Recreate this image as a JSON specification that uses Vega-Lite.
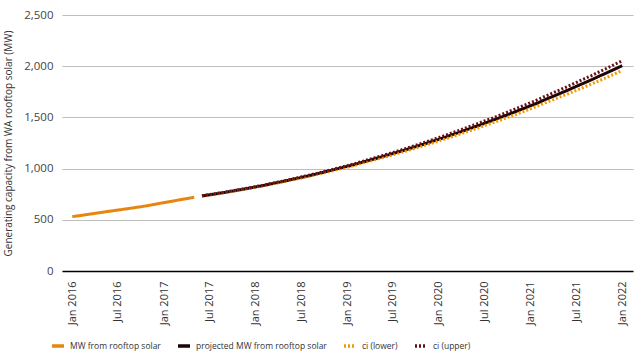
{
  "$schema": "https://vega.github.io/schema/vega-lite/v6.json",
  "width": 571,
  "height": 256,
  "autosize": "none",
  "padding": {"left": 62, "top": 15, "right": 4, "bottom": 82},
  "background": "white",
  "config": {"font": "Open Sans", "view": {"stroke": null}},
  "data": {"values": [
    {"date": "2016/01/01", "hist": 531},
    {"date": "2016/02/01", "hist": 541},
    {"date": "2016/03/01", "hist": 552},
    {"date": "2016/04/01", "hist": 563},
    {"date": "2016/05/01", "hist": 574},
    {"date": "2016/06/01", "hist": 585},
    {"date": "2016/07/01", "hist": 595},
    {"date": "2016/08/01", "hist": 606},
    {"date": "2016/09/01", "hist": 617},
    {"date": "2016/10/01", "hist": 628},
    {"date": "2016/11/01", "hist": 640},
    {"date": "2016/12/01", "hist": 654},
    {"date": "2017/01/01", "hist": 668},
    {"date": "2017/02/01", "hist": 681},
    {"date": "2017/03/01", "hist": 694},
    {"date": "2017/04/01", "hist": 707},
    {"date": "2017/05/01", "hist": 720},
    {"date": "2017/06/01", "proj": 733, "lo": 731, "up": 735},
    {"date": "2017/07/01", "proj": 744, "lo": 742, "up": 746},
    {"date": "2017/08/01", "proj": 756, "lo": 754, "up": 758},
    {"date": "2017/09/01", "proj": 768, "lo": 766, "up": 770},
    {"date": "2017/10/01", "proj": 781, "lo": 778, "up": 783},
    {"date": "2017/11/01", "proj": 794, "lo": 791, "up": 796},
    {"date": "2017/12/01", "proj": 807, "lo": 804, "up": 809},
    {"date": "2018/01/01", "proj": 821, "lo": 818, "up": 824},
    {"date": "2018/02/01", "proj": 835, "lo": 832, "up": 838},
    {"date": "2018/03/01", "proj": 850, "lo": 847, "up": 853},
    {"date": "2018/04/01", "proj": 865, "lo": 862, "up": 869},
    {"date": "2018/05/01", "proj": 881, "lo": 877, "up": 884},
    {"date": "2018/06/01", "proj": 897, "lo": 893, "up": 901},
    {"date": "2018/07/01", "proj": 913, "lo": 909, "up": 918},
    {"date": "2018/08/01", "proj": 930, "lo": 925, "up": 935},
    {"date": "2018/09/01", "proj": 948, "lo": 942, "up": 953},
    {"date": "2018/10/01", "proj": 966, "lo": 960, "up": 971},
    {"date": "2018/11/01", "proj": 984, "lo": 977, "up": 990},
    {"date": "2018/12/01", "proj": 1003, "lo": 996, "up": 1009},
    {"date": "2019/01/01", "proj": 1022, "lo": 1014, "up": 1029},
    {"date": "2019/02/01", "proj": 1041, "lo": 1033, "up": 1049},
    {"date": "2019/03/01", "proj": 1061, "lo": 1053, "up": 1070},
    {"date": "2019/04/01", "proj": 1082, "lo": 1072, "up": 1091},
    {"date": "2019/05/01", "proj": 1103, "lo": 1093, "up": 1113},
    {"date": "2019/06/01", "proj": 1124, "lo": 1113, "up": 1135},
    {"date": "2019/07/01", "proj": 1146, "lo": 1134, "up": 1157},
    {"date": "2019/08/01", "proj": 1168, "lo": 1156, "up": 1180},
    {"date": "2019/09/01", "proj": 1191, "lo": 1178, "up": 1204},
    {"date": "2019/10/01", "proj": 1214, "lo": 1200, "up": 1228},
    {"date": "2019/11/01", "proj": 1238, "lo": 1223, "up": 1252},
    {"date": "2019/12/01", "proj": 1262, "lo": 1246, "up": 1277},
    {"date": "2020/01/01", "proj": 1286, "lo": 1269, "up": 1303},
    {"date": "2020/02/01", "proj": 1311, "lo": 1293, "up": 1329},
    {"date": "2020/03/01", "proj": 1336, "lo": 1318, "up": 1355},
    {"date": "2020/04/01", "proj": 1362, "lo": 1342, "up": 1382},
    {"date": "2020/05/01", "proj": 1388, "lo": 1368, "up": 1409},
    {"date": "2020/06/01", "proj": 1415, "lo": 1393, "up": 1437},
    {"date": "2020/07/01", "proj": 1442, "lo": 1419, "up": 1465},
    {"date": "2020/08/01", "proj": 1470, "lo": 1446, "up": 1493},
    {"date": "2020/09/01", "proj": 1498, "lo": 1472, "up": 1523},
    {"date": "2020/10/01", "proj": 1526, "lo": 1500, "up": 1552},
    {"date": "2020/11/01", "proj": 1555, "lo": 1527, "up": 1582},
    {"date": "2020/12/01", "proj": 1584, "lo": 1555, "up": 1613},
    {"date": "2021/01/01", "proj": 1614, "lo": 1584, "up": 1644},
    {"date": "2021/02/01", "proj": 1644, "lo": 1613, "up": 1676},
    {"date": "2021/03/01", "proj": 1675, "lo": 1642, "up": 1708},
    {"date": "2021/04/01", "proj": 1706, "lo": 1672, "up": 1740},
    {"date": "2021/05/01", "proj": 1737, "lo": 1702, "up": 1773},
    {"date": "2021/06/01", "proj": 1769, "lo": 1732, "up": 1806},
    {"date": "2021/07/01", "proj": 1802, "lo": 1763, "up": 1840},
    {"date": "2021/08/01", "proj": 1835, "lo": 1795, "up": 1875},
    {"date": "2021/09/01", "proj": 1868, "lo": 1826, "up": 1909},
    {"date": "2021/10/01", "proj": 1902, "lo": 1858, "up": 1945},
    {"date": "2021/11/01", "proj": 1936, "lo": 1891, "up": 1980},
    {"date": "2021/12/01", "proj": 1970, "lo": 1924, "up": 2017},
    {"date": "2022/01/01", "proj": 2005, "lo": 1957, "up": 2053}
  ]},
  "transform": [
    {"fold": ["hist", "proj", "lo", "up"], "as": ["series", "value"]},
    {"filter": "isValid(datum.value)"}
  ],
  "mark": {"type": "line", "strokeWidth": 3},
  "encoding": {
    "x": {
      "field": "date", "type": "temporal",
      "scale": {"domain": [{"year": 2015, "month": 11, "date": 21}, {"year": 2022, "month": 2, "date": 13}]},
      "axis": {
        "title": null,
        "values": [
          {"year": 2016, "month": 1, "date": 1}, {"year": 2016, "month": 7, "date": 1},
          {"year": 2017, "month": 1, "date": 1}, {"year": 2017, "month": 7, "date": 1},
          {"year": 2018, "month": 1, "date": 1}, {"year": 2018, "month": 7, "date": 1},
          {"year": 2019, "month": 1, "date": 1}, {"year": 2019, "month": 7, "date": 1},
          {"year": 2020, "month": 1, "date": 1}, {"year": 2020, "month": 7, "date": 1},
          {"year": 2021, "month": 1, "date": 1}, {"year": 2021, "month": 7, "date": 1},
          {"year": 2022, "month": 1, "date": 1}
        ],
        "format": "%b %Y",
        "labelAngle": -90,
        "labelFontSize": 11,
        "labelColor": "#333333",
        "labelPadding": 10,
        "ticks": false,
        "grid": false,
        "domainColor": "#000000",
        "domainWidth": 1.5,
        "labelOverlap": false
      }
    },
    "y": {
      "field": "value", "type": "quantitative",
      "scale": {"domain": [0, 2500]},
      "axis": {
        "values": [0, 500, 1000, 1500, 2000, 2500],
        "format": ",.0f",
        "title": "Generating capacity from WA rooftop solar (MW)",
        "titleFontSize": 10,
        "titleFontWeight": "normal",
        "titleColor": "#333333",
        "titlePadding": 10,
        "labelFontSize": 11.5,
        "labelColor": "#444444",
        "labelPadding": 9,
        "ticks": false,
        "domain": false,
        "gridColor": "#bdbdbd",
        "gridWidth": 1.2
      }
    },
    "color": {
      "field": "series", "type": "nominal",
      "scale": {"domain": ["hist", "proj", "lo", "up"], "range": ["#E8850E", "#1E0505", "#F29A00", "#6A0E18"]},
      "legend": {
        "orient": "none", "legendX": -12, "legendY": 323,
        "direction": "horizontal", "title": null,
        "symbolType": "stroke", "symbolStrokeWidth": 3.5, "symbolSize": 144,
        "labelFontSize": 8.5, "labelColor": "#333333", "columnPadding": 10, "labelOffset": 4,
        "labelExpr": "{'hist': 'MW from rooftop solar', 'proj': 'projected MW from rooftop solar', 'lo': 'ci (lower)', 'up': 'ci (upper)'}[datum.label]"
      }
    },
    "strokeDash": {
      "field": "series", "type": "nominal",
      "scale": {"domain": ["hist", "proj", "lo", "up"], "range": [[1, 0], [1, 0], [2, 2], [2, 2]]},
      "legend": {
        "orient": "none", "legendX": -12, "legendY": 323,
        "direction": "horizontal", "title": null,
        "symbolType": "stroke", "symbolStrokeWidth": 3.5, "symbolSize": 144,
        "labelFontSize": 8.5, "labelColor": "#333333", "columnPadding": 10, "labelOffset": 4,
        "labelExpr": "{'hist': 'MW from rooftop solar', 'proj': 'projected MW from rooftop solar', 'lo': 'ci (lower)', 'up': 'ci (upper)'}[datum.label]"
      }
    }
  }
}
